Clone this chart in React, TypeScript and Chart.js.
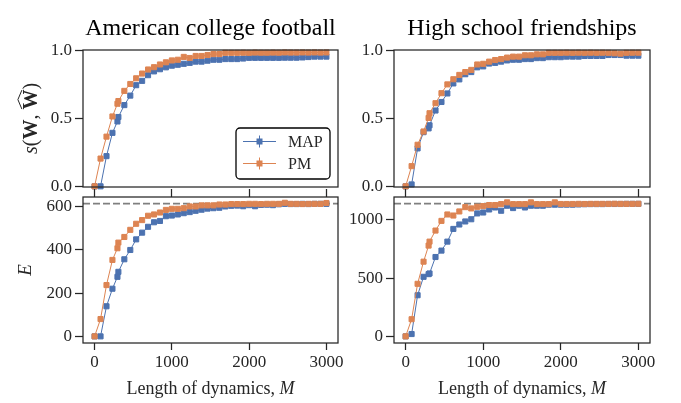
import React, { useEffect, useRef } from "react";
import { Chart, registerables } from "chart.js";

Chart.register(...registerables);

// ---- data ---------------------------------------------------------------

// Length of dynamics M at which the reconstructions were evaluated
const lengths = [
  0, 77, 154, 231, 296, 308, 385, 462, 538, 615, 692, 769, 846, 923, 1000,
  1077, 1154, 1231, 1308, 1385, 1462, 1538, 1615, 1692, 1769, 1846, 1923, 2000,
  2077, 2154, 2231, 2308, 2385, 2462, 2538, 2615, 2692, 2769, 2846, 2923, 3000,
];

const lengthTicks = [0, 1000, 2000, 3000];
const similarityTicks = [0, 0.5, 1];
const footballEdgeTicks = [0, 200, 400, 600];
const friendsEdgeTicks = [0, 500, 1000];

// true number of edges of each network (dashed reference line)
const footballTrueEdges = 613;
const friendsTrueEdges = 1139;

// similarity s(W, W^) — American college football
const footballSimMAP = [
  0, 0, 0.223, 0.395, 0.479, 0.512, 0.6, 0.67, 0.747, 0.779, 0.821, 0.849,
  0.865, 0.879, 0.891, 0.898, 0.905, 0.912, 0.921, 0.921, 0.928, 0.935, 0.935,
  0.94, 0.94, 0.94, 0.944, 0.949, 0.949, 0.949, 0.949, 0.949, 0.949, 0.95, 0.95,
  0.95, 0.952, 0.955, 0.958, 0.958, 0.958,
];
const footballSimPM = [
  0, 0.205, 0.367, 0.516, 0.61, 0.63, 0.705, 0.756, 0.798, 0.833, 0.863, 0.88,
  0.9, 0.916, 0.93, 0.935, 0.956, 0.948, 0.963, 0.963, 0.97, 0.977, 0.977,
  0.986, 0.986, 0.986, 0.987, 0.986, 0.988, 0.987, 0.987, 0.988, 0.987, 0.989,
  0.988, 0.988, 0.989, 0.988, 0.989, 0.988, 0.989,
];

// similarity — high school friendships
const friendsSimMAP = [
  0, 0.014, 0.28, 0.4, 0.428, 0.451, 0.56, 0.623, 0.686, 0.76, 0.79, 0.828,
  0.844, 0.879, 0.886, 0.907, 0.912, 0.921, 0.93, 0.935, 0.935, 0.94, 0.94,
  0.947, 0.947, 0.954, 0.954, 0.954, 0.958, 0.958, 0.958, 0.963, 0.963, 0.963,
  0.963, 0.97, 0.97, 0.97, 0.965, 0.965, 0.965,
];
const friendsSimPM = [
  0, 0.149, 0.307, 0.405, 0.505, 0.54, 0.614, 0.688, 0.753, 0.791, 0.823,
  0.844, 0.86, 0.9, 0.905, 0.921, 0.933, 0.94, 0.951, 0.958, 0.958, 0.968,
  0.968, 0.975, 0.975, 0.986, 0.986, 0.986, 0.987, 0.986, 0.987, 0.986, 0.987,
  0.986, 0.987, 0.986, 0.983, 0.98, 0.986, 0.987, 0.987,
];

// number of inferred edges E — American college football
const footballEdgesMAP = [
  0, 0, 139, 220, 275, 298, 356, 399, 448, 479, 506, 527, 533, 555, 558, 563,
  569, 574, 580, 585, 590, 592, 594, 600, 603, 604, 601, 606, 601, 607, 608,
  606, 610, 612, 611, 611, 612, 611, 612, 612, 612,
];
const footballEdgesPM = [
  0, 80, 237, 353, 407, 433, 459, 492, 520, 537, 557, 563, 572, 584, 589, 589,
  592, 600, 600, 605, 605, 605, 609, 609, 611, 611, 611, 612, 612, 611, 612,
  612, 612, 617, 612, 612, 611, 612, 612, 612, 616,
];

// number of inferred edges E — high school friendships
const friendsEdgesMAP = [
  0, 20, 353, 511, 534, 540, 681, 736, 813, 922, 960, 986, 1005, 1055, 1063,
  1089, 1106, 1078, 1121, 1101, 1121, 1106, 1121, 1121, 1121, 1130, 1130, 1130,
  1130, 1130, 1132, 1134, 1135, 1135, 1135, 1136, 1136, 1136, 1137, 1137, 1137,
];
const friendsEdgesPM = [
  0, 147, 451, 641, 779, 813, 908, 991, 1046, 1037, 1072, 1109, 1098, 1112,
  1118, 1127, 1127, 1135, 1150, 1135, 1135, 1135, 1150, 1135, 1135, 1135, 1150,
  1136, 1136, 1136, 1137, 1136, 1137, 1137, 1137, 1137, 1138, 1137, 1137, 1137,
  1138,
];

// ---- styling ------------------------------------------------------------

const SERIF = '"Liberation Serif", "Times New Roman", Times, serif';
const INK = "#262626";
const MAP_COLOR = "#4c72b0";
const PM_COLOR = "#dd8452";

type Seg = { text: string; style?: string; size: number; hat?: boolean };

const simLabel: Seg[] = [
  { text: "s", style: "italic", size: 20 },
  { text: "(", size: 20 },
  { text: "W", style: "bold", size: 20 },
  { text: ", ", size: 20 },
  { text: "W", style: "bold", size: 20, hat: true },
  { text: ")", size: 20 },
];
const edgeLabel: Seg[] = [{ text: "E", style: "italic", size: 19 }];
const lengthLabel: Seg[] = [
  { text: "Length of dynamics, ", size: 18 },
  { text: "M", style: "italic", size: 18 },
];

interface PanelSpec {
  key: string;
  box: { left: number; top: number; width: number; height: number };
  padding: { left: number; top: number; right: number; bottom: number };
  yAxisWidth: number;
  xAxisHeight: number;
  lower: boolean;
  yMin: number;
  yMax: number;
  yTicks: number[];
  decimals: number;
  map: number[];
  pm: number[];
  reference?: number;
  title?: string;
  yLabel?: Seg[];
  yLabelX?: number;
  legend?: boolean;
}

const panels: PanelSpec[] = [
  {
    key: "football-sim",
    box: { left: 0, top: 0, width: 352, height: 201 },
    padding: { left: 0, top: 42, right: 14, bottom: 14 },
    yAxisWidth: 83,
    xAxisHeight: 0,
    lower: false,
    yMin: -0.005,
    yMax: 1.007,
    yTicks: similarityTicks,
    decimals: 1,
    map: footballSimMAP,
    pm: footballSimPM,
    title: "American college football",
    yLabel: simLabel,
    yLabelX: 37,
    legend: true,
  },
  {
    key: "friends-sim",
    box: { left: 340, top: 0, width: 341, height: 201 },
    padding: { left: 0, top: 42, right: 31, bottom: 14 },
    yAxisWidth: 54,
    xAxisHeight: 0,
    lower: false,
    yMin: -0.005,
    yMax: 1.007,
    yTicks: similarityTicks,
    decimals: 1,
    map: friendsSimMAP,
    pm: friendsSimPM,
    title: "High school friendships",
  },
  {
    key: "football-edges",
    box: { left: 0, top: 180, width: 352, height: 223 },
    padding: { left: 0, top: 9, right: 14, bottom: 0 },
    yAxisWidth: 83,
    xAxisHeight: 60,
    lower: true,
    yMin: -0.05 * footballTrueEdges,
    yMax: 1.05 * footballTrueEdges,
    yTicks: footballEdgeTicks,
    decimals: 0,
    map: footballEdgesMAP,
    pm: footballEdgesPM,
    reference: footballTrueEdges,
    yLabel: edgeLabel,
    yLabelX: 31,
  },
  {
    key: "friends-edges",
    box: { left: 340, top: 180, width: 341, height: 223 },
    padding: { left: 0, top: 9, right: 31, bottom: 0 },
    yAxisWidth: 54,
    xAxisHeight: 60,
    lower: true,
    yMin: -0.05 * friendsTrueEdges,
    yMax: 1.05 * friendsTrueEdges,
    yTicks: friendsEdgeTicks,
    decimals: 0,
    map: friendsEdgesMAP,
    pm: friendsEdgesPM,
    reference: friendsTrueEdges,
  },
];

// ---- drawing helpers ----------------------------------------------------

const fontOf = (s: Seg) => `${s.style ?? ""} ${s.size}px ${SERIF}`.trim();

// draws a run of differently-styled text pieces centred on cx
function drawSegments(ctx: CanvasRenderingContext2D, segs: Seg[], cx: number, baseline: number) {
  const widths = segs.map((s) => {
    ctx.font = fontOf(s);
    return ctx.measureText(s.text).width;
  });
  const total = widths.reduce((a, b) => a + b, 0);
  let x = cx - total / 2;
  ctx.textAlign = "left";
  ctx.textBaseline = "alphabetic";
  segs.forEach((s, i) => {
    ctx.font = fontOf(s);
    ctx.fillText(s.text, x, baseline);
    if (s.hat) {
      const w = widths[i];
      const capTop = baseline - s.size * 0.68;
      ctx.beginPath();
      ctx.moveTo(x + 0.5, capTop - 1.5);
      ctx.lineTo(x + w / 2, capTop - 5.5);
      ctx.lineTo(x + w - 0.5, capTop - 1.5);
      ctx.lineWidth = 1;
      ctx.strokeStyle = INK;
      ctx.stroke();
    }
    x += widths[i];
  });
}

function roundedRect(ctx: CanvasRenderingContext2D, x: number, y: number, w: number, h: number, r: number) {
  ctx.beginPath();
  ctx.moveTo(x + r, y);
  ctx.arcTo(x + w, y, x + w, y + h, r);
  ctx.arcTo(x + w, y + h, x, y + h, r);
  ctx.arcTo(x, y + h, x, y, r);
  ctx.arcTo(x, y, x + w, y, r);
  ctx.closePath();
}

function drawLegend(chart: any) {
  const { ctx, chartArea } = chart;
  const w = 94;
  const h = 51;
  const inset = 8;
  const x0 = chartArea.right - inset - w;
  const y0 = chartArea.bottom - inset - h;
  ctx.save();
  roundedRect(ctx, x0, y0, w, h, 4);
  ctx.fillStyle = "#ffffff";
  ctx.fill();
  ctx.lineWidth = 1.3;
  ctx.strokeStyle = "#000000";
  ctx.stroke();
  chart.data.datasets.forEach((ds: any, i: number) => {
    const cy = y0 + 13.5 + i * 22;
    const mx = x0 + 23.5;
    ctx.strokeStyle = ds.borderColor;
    ctx.lineWidth = 1;
    ctx.beginPath();
    ctx.moveTo(x0 + 7, cy);
    ctx.lineTo(x0 + 40, cy);
    ctx.moveTo(mx, cy - 6);
    ctx.lineTo(mx, cy + 6);
    ctx.stroke();
    ctx.fillStyle = ds.borderColor;
    ctx.fillRect(mx - 3, cy - 3, 6, 6);
    ctx.fillStyle = INK;
    ctx.font = `16px ${SERIF}`;
    ctx.textAlign = "left";
    ctx.textBaseline = "middle";
    ctx.fillText(ds.label, x0 + 52, cy + 1);
  });
  ctx.restore();
}

// reference line, axes frame, titles, axis labels and legend
const panelDecor = {
  id: "panelDecor",
  beforeDatasetsDraw(chart: any, _args: any, opts: any) {
    if (opts.reference == null) return;
    const { ctx, chartArea } = chart;
    const y = chart.scales.y.getPixelForValue(opts.reference);
    ctx.save();
    ctx.strokeStyle = "#7f7f7f";
    ctx.lineWidth = 1.8;
    ctx.setLineDash([7, 3]);
    ctx.beginPath();
    ctx.moveTo(chartArea.left, y);
    ctx.lineTo(chartArea.right, y);
    ctx.stroke();
    ctx.restore();
  },
  afterDatasetsDraw(chart: any) {
    const { ctx, chartArea } = chart;
    ctx.save();
    ctx.strokeStyle = INK;
    ctx.lineWidth = 1.25;
    ctx.strokeRect(chartArea.left, chartArea.top, chartArea.right - chartArea.left, chartArea.bottom - chartArea.top);
    ctx.restore();
  },
  afterDraw(chart: any, _args: any, opts: any) {
    const { ctx, chartArea } = chart;
    const cx = (chartArea.left + chartArea.right) / 2;
    const cy = (chartArea.top + chartArea.bottom) / 2;
    ctx.save();
    ctx.fillStyle = INK;
    if (opts.title) {
      ctx.fillStyle = "#000000";
      drawSegments(ctx, [{ text: opts.title, size: 24 }], cx, chartArea.top - 15);
      ctx.fillStyle = INK;
    }
    if (opts.yLabel) {
      ctx.save();
      ctx.translate(opts.yLabelX, cy);
      ctx.rotate(-Math.PI / 2);
      drawSegments(ctx, opts.yLabel, 0, 0);
      ctx.restore();
    }
    if (opts.xLabel) {
      drawSegments(ctx, opts.xLabel, cx, chartArea.bottom + 51);
    }
    ctx.restore();
    if (opts.legend) drawLegend(chart);
  },
};

function buildConfig(p: PanelSpec): any {
  const points = (vals: number[]) => lengths.map((m, i) => ({ x: m, y: vals[i] }));
  const series = (label: string, vals: number[], color: string, order: number) => ({
    label,
    data: points(vals),
    order,
    borderColor: color,
    backgroundColor: color,
    borderWidth: 1,
    pointStyle: "rect",
    pointRadius: 3.6,
    pointBorderWidth: 1,
    pointBackgroundColor: color,
    pointBorderColor: color,
    clip: false,
    tension: 0,
  });
  const tickFont = { family: SERIF, size: 17 };
  const outwardTicks = (len: number) => ({
    drawOnChartArea: false,
    drawTicks: true,
    tickLength: len,
    tickWidth: 1.25,
    tickColor: INK,
  });
  const setLengthTicks = (s: any) => {
    s.ticks = lengthTicks.map((v) => ({ value: v }));
  };
  return {
    type: "line",
    data: {
      datasets: [series("MAP", p.map, MAP_COLOR, 1), series("PM", p.pm, PM_COLOR, 0)],
    },
    options: {
      responsive: false,
      animation: false,
      events: [],
      layout: { padding: p.padding },
      scales: {
        x: {
          type: "linear",
          position: "bottom",
          min: -150,
          max: 3150,
          display: p.lower,
          afterBuildTicks: setLengthTicks,
          afterFit: (s: any) => {
            s.height = p.xAxisHeight;
          },
          grid: outwardTicks(7),
          border: { display: false },
          ticks: {
            font: tickFont,
            color: INK,
            padding: 2,
            autoSkip: false,
            maxRotation: 0,
            callback: (v: any) => String(v),
          },
        },
        xTop: {
          type: "linear",
          position: "top",
          min: -150,
          max: 3150,
          display: p.lower,
          afterBuildTicks: setLengthTicks,
          afterFit: (s: any) => {
            s.height = 8;
          },
          grid: outwardTicks(8),
          border: { display: false },
          ticks: { display: false },
        },
        y: {
          type: "linear",
          min: p.yMin,
          max: p.yMax,
          afterBuildTicks: (s: any) => {
            s.ticks = p.yTicks.map((v) => ({ value: v }));
          },
          afterFit: (s: any) => {
            s.width = p.yAxisWidth;
          },
          grid: outwardTicks(8),
          border: { display: false },
          ticks: {
            font: tickFont,
            color: INK,
            padding: 3,
            autoSkip: false,
            callback: (v: any) => Number(v).toFixed(p.decimals),
          },
        },
      },
      plugins: {
        legend: { display: false },
        tooltip: { enabled: false },
        panelDecor: {
          reference: p.reference ?? null,
          title: p.title ?? null,
          yLabel: p.yLabel ?? null,
          yLabelX: p.yLabelX ?? 0,
          xLabel: p.lower ? lengthLabel : null,
          legend: !!p.legend,
        },
      },
    },
    plugins: [panelDecor],
  };
}

function Panel({ spec }: { spec: PanelSpec }) {
  const ref = useRef<HTMLCanvasElement>(null);
  useEffect(() => {
    if (!ref.current) return;
    const chart = new Chart(ref.current, buildConfig(spec));
    return () => chart.destroy();
  }, [spec]);
  const { left, top, width, height } = spec.box;
  return (
    <canvas
      ref={ref}
      width={width}
      height={height}
      style={{ position: "absolute", left, top, width, height }}
    />
  );
}

export default function App() {
  return (
    <div
      style={{
        position: "absolute",
        left: 0,
        top: 0,
        width: 681,
        height: 403,
        background: "#ffffff",
        overflow: "hidden",
      }}
    >
      {panels.map((p) => (
        <Panel key={p.key} spec={p} />
      ))}
    </div>
  );
}
